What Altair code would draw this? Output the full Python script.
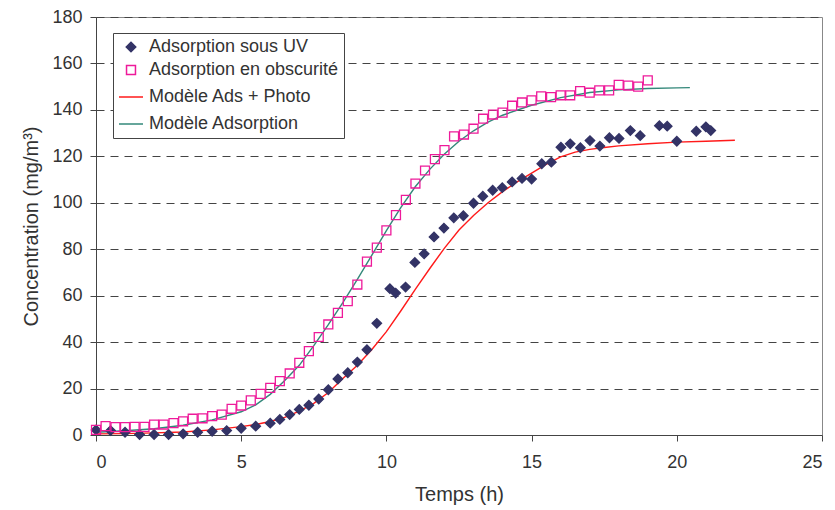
import altair as alt
import pandas as pd

S1 = "Adsorption sous UV"
S2 = "Adsorption en obscurité"
S3 = "Modèle Ads + Photo"
S4 = "Modèle Adsorption"
SERIES = [S1, S2, S3, S4]

NAVY = "#333366"
MAGENTA = "#ee1a9a"
RED = "#ff1a1a"
TEAL = "#33887a"

# Adsorption sous UV (diamonds)
uv_t = [0, 0.5, 1.0, 1.5, 2.0, 2.5, 3.0, 3.5, 4.0, 4.5, 5.0, 5.5, 6.0, 6.33, 6.67,
        7.0, 7.33, 7.67, 8.0, 8.33, 8.67, 9.0, 9.33, 9.67, 10.12, 10.32, 10.66, 10.98,
        11.3, 11.64, 11.98, 12.32, 12.65, 13.0, 13.32, 13.66, 13.99, 14.33, 14.67, 15.0,
        15.35, 15.68, 16.01, 16.33, 16.68, 17.01, 17.35, 17.68, 18.01, 18.4, 18.74,
        19.4, 19.67, 20.0, 20.67, 21.0, 21.17]
uv_c = [2.2, 1.9, 1.2, 0.2, 0.2, 0.2, 0.5, 1.2, 1.6, 1.9, 2.9, 3.8, 5.1, 6.7, 8.8,
        11.0, 12.8, 15.5, 19.5, 24.1, 26.8, 31.4, 36.7, 48.1, 63.0, 61.1, 63.7, 74.3,
        78.0, 85.3, 89.1, 93.5, 94.4, 99.8, 102.8, 105.4, 106.5, 109.0, 110.5, 110.2,
        116.8, 117.5, 123.9, 125.4, 123.7, 126.8, 124.4, 128.0, 127.7, 131.1, 128.9,
        133.2, 133.0, 126.5, 130.8, 132.7, 131.1]

# Adsorption en obscurité (open squares)
obs_t = [0, 0.33, 0.67, 1.0, 1.33, 1.67, 2.0, 2.33, 2.67, 3.0, 3.33, 3.67, 4.0, 4.33,
         4.67, 5.0, 5.33, 5.67, 6.0, 6.33, 6.67, 7.0, 7.33, 7.67, 8.0, 8.33, 8.67, 9.0,
         9.33, 9.67, 10.0, 10.33, 10.67, 11.0, 11.33, 11.67, 12.0, 12.33, 12.67, 13.0,
         13.33, 13.67, 14.0, 14.33, 14.67, 15.0, 15.33, 15.67, 16.0, 16.33, 16.67, 17.0,
         17.33, 17.67, 18.0, 18.33, 18.67, 19.0]
obs_c = [2.2, 3.8, 3.4, 3.4, 3.5, 3.5, 4.5, 4.5, 5.1, 5.9, 7.0, 7.2, 8.1, 8.8,
         11.3, 12.7, 14.9, 17.7, 20.3, 23.2, 26.5, 31.1, 36.1, 42.2, 47.6, 52.6, 57.6, 64.8,
         74.7, 80.7, 88.1, 94.7, 101.3, 108.3, 113.9, 118.8, 122.7, 128.6, 129.4, 131.9,
         136.2, 138.0, 138.8, 141.8, 143.2, 144.1, 145.8, 145.5, 146.3, 146.3, 148.1, 147.4,
         148.4, 148.4, 150.8, 150.5, 150.0, 152.7]

# Modèle Ads + Photo (red line)
red_t = [0, 1, 2, 3, 4, 5, 5.5, 6, 6.5, 7, 7.5, 8, 8.5, 9, 9.5, 10, 10.5, 11, 11.5, 12,
         12.5, 13, 13.5, 14, 14.5, 15, 15.5, 16, 16.5, 17, 17.5, 18, 19, 20, 21, 22]
red_c = [0.5, 0.6, 0.9, 1.3, 2.2, 3.6, 4.5, 5.8, 7.6, 10.3, 13.6, 18.3, 24.3, 30.0, 36.8,
         44.5, 53.5, 62.8, 71.8, 80.5, 88.3, 94.5, 100.0, 104.8, 109.0, 112.8, 116.5,
         119.8, 121.8, 123.0, 123.8, 124.5, 125.4, 126.1, 126.5, 126.9]

# Modèle Adsorption (teal line)
teal_t = [0, 1, 2, 3, 4, 5, 5.5, 6, 6.5, 7, 7.5, 8, 8.5, 9, 9.5, 10, 10.5, 11, 11.5, 12,
          12.5, 13, 13.5, 14, 15, 16, 17, 18, 19, 20, 20.45]
teal_c = [1.2, 1.8, 2.7, 4.2, 6.5, 10.0, 13.0, 17.5, 23.5, 30.0, 38.5, 47.5, 57.0, 67.0,
          77.5, 88.0, 98.0, 107.0, 114.5, 121.0, 126.5, 131.0, 134.7, 137.7, 142.0, 145.3,
          147.5, 148.6, 149.2, 149.5, 149.6]

pts = pd.concat([
    pd.DataFrame({"t": uv_t, "c": uv_c, "serie": S1}),
    pd.DataFrame({"t": obs_t, "c": obs_c, "serie": S2}),
])
lines = pd.concat([
    pd.DataFrame({"t": red_t, "c": red_c, "serie": S3}),
    pd.DataFrame({"t": teal_t, "c": teal_c, "serie": S4}),
])

FONT = "Liberation Sans"

legend = alt.Legend(
    title=None, orient="none", legendX=17, legendY=16,
    labelFont=FONT, labelFontSize=18, labelColor="#333333", labelOffset=5,
    strokeColor="#444444", fillColor="white", padding=5, rowPadding=5,
    symbolStrokeWidth=1.5, labelLimit=400,
)

stroke_scale = alt.Scale(domain=SERIES, range=[NAVY, MAGENTA, RED, TEAL])
fill_scale = alt.Scale(domain=SERIES, range=[NAVY, "transparent", "transparent", "transparent"])
shape_scale = alt.Scale(domain=SERIES, range=["diamond", "square", "stroke", "stroke"])
size_scale = alt.Scale(type="ordinal", domain=SERIES, range=[90, 80, 576, 576])

x_enc = alt.X("t:Q", scale=alt.Scale(domain=[0, 25], nice=False),
              axis=alt.Axis(title="Temps (h)", values=[0, 5, 10, 15, 20, 25], grid=False))
y_enc = alt.Y("c:Q", scale=alt.Scale(domain=[0, 180], nice=False),
              axis=alt.Axis(title="Concentration (mg/m³)", values=list(range(0, 181, 20)),
                            grid=True, gridDash=[8, 6], gridColor="#444444", gridWidth=1))

line_layer = alt.Chart(lines).mark_line(strokeWidth=1.4).encode(
    x=x_enc, y=y_enc,
    stroke=alt.Stroke("serie:N", scale=stroke_scale, legend=legend),
)

pt_layer = alt.Chart(pts).mark_point(opacity=1, strokeWidth=1.3).encode(
    x=x_enc, y=y_enc,
    stroke=alt.Stroke("serie:N", scale=stroke_scale, legend=legend),
    fill=alt.Fill("serie:N", scale=fill_scale, legend=legend),
    shape=alt.Shape("serie:N", scale=shape_scale, legend=legend),
    size=alt.Size("serie:N", scale=size_scale, legend=legend),
)

chart = alt.layer(line_layer, pt_layer).properties(
    width=726, height=418,
    padding={"left": 88, "top": 9, "right": 5, "bottom": 75},
    autosize=alt.AutoSizeParams(type="none"),
    background="white",
).configure_view(
    stroke="#888888", strokeWidth=1,
).configure_axis(
    labelFont=FONT, labelFontSize=18, labelColor="#333333",
    titleFont=FONT, titleFontSize=20, titleColor="#333333", titleFontWeight="normal",
    domainColor="#444444", tickColor="#444444", tickSize=6, domainWidth=1,
).configure_axisX(
    labelPadding=12, titlePadding=13,
).configure_axisY(
    labelPadding=8, titlePadding=10,
)

chart.save("out.html", embed_options={"renderer": "svg", "actions": False})
